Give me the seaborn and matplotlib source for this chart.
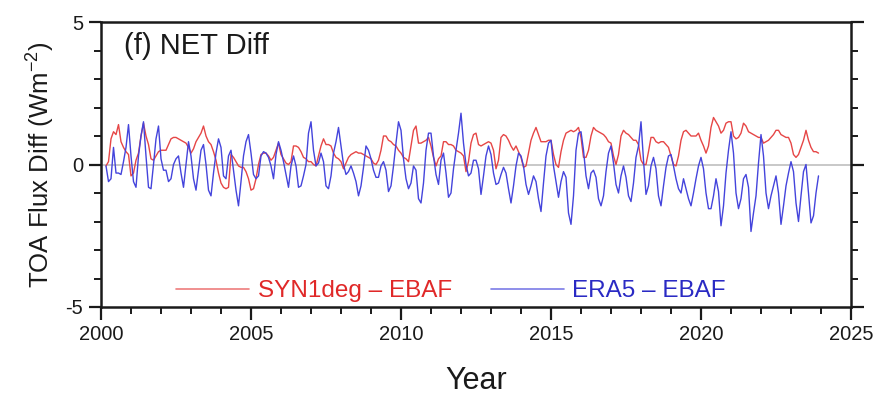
import numpy as np
import pandas as pd
import matplotlib
matplotlib.use("Agg")
import matplotlib.pyplot as plt
import seaborn as sns
from matplotlib.ticker import MultipleLocator, FixedLocator

# ---------------- data (monthly, W m-2) ----------------
start_year = 2000
start_month = 3  # March 2000

syn_2000 = [-0.05, 0.1, 0.9, 1.15, 1.05, 1.4, 0.8, 0.6, 0.45, 0.35]
syn_2001 = [-0.4, -0.3, 0.15, 0.4, 1.0, 1.45, 1.0, 0.7, 0.2, 0.15, 0.3, 0.45]
syn_2002 = [0.5, 0.5, 0.5, 0.7, 0.9, 0.95, 0.95, 0.9, 0.85, 0.8, 0.75, 0.6]
syn_2003 = [0.4, 0.55, 0.8, 0.95, 1.1, 1.35, 1.0, 0.8, 0.7, 0.45, 0.15, -0.3]
syn_2004 = [-0.65, -0.8, -0.85, -0.8, 0.35, 0.25, 0.1, -0.05, -0.1, -0.1, -0.25, -0.5]
syn_2005 = [-0.9, -0.85, -0.5, 0.0, 0.35, 0.4, 0.4, 0.3, 0.15, 0.25, 0.5, 0.75]
syn_2006 = [0.35, 0.2, 0.05, 0.0, 0.1, 0.65, 0.65, 0.6, 0.45, 0.25, 0.2, 0.1]
syn_2007 = [0.1, 0.0, -0.05, 0.3, 0.65, 0.9, 0.7, 0.7, 0.65, 0.4, 0.25, 0.2]
syn_2008 = [0.1, -0.15, 0.05, 0.25, 0.35, 0.4, 0.45, 0.4, 0.4, 0.35, 0.3, 0.25]
syn_2009 = [0.2, 0.05, 0.0, 0.15, 0.5, 1.0, 1.0, 0.85, 0.8, 0.7, 0.65, 0.5]
syn_2010 = [0.4, 0.25, 0.2, 0.1, 0.65, 1.2, 1.35, 0.75, 0.75, 0.8, 0.85, 0.95]
syn_2011 = [0.65, 0.25, -0.05, 0.2, 0.3, 0.8, 0.8, 0.7, 0.7, 0.65, 0.5, 0.45]
syn_2012 = [0.4, 0.3, -0.25, 0.1, 0.75, 1.05, 1.1, 0.7, 0.65, 0.7, 0.75, 0.8]
syn_2013 = [0.75, 0.5, -0.15, 0.15, 0.95, 1.05, 1.0, 0.85, 0.65, 0.5, 0.65, 0.45]
syn_2014 = [0.25, -0.1, -0.05, 0.4, 0.85, 1.1, 1.3, 1.05, 0.8, 0.8, 0.8, 0.85]
syn_2015 = [0.85, 0.35, 0.0, -0.1, 0.45, 0.85, 1.1, 1.15, 1.2, 1.15, 1.2, 1.3]
syn_2016 = [0.95, 0.25, 0.25, 0.5, 1.0, 1.3, 1.2, 1.15, 1.1, 1.05, 0.95, 0.8]
syn_2017 = [0.75, 0.3, 0.0, 0.35, 1.0, 1.2, 1.1, 1.05, 0.95, 0.85, 0.85, 0.7]
syn_2018 = [0.15, 0.0, 0.0, 0.45, 0.95, 0.95, 0.8, 0.75, 0.8, 0.8, 0.7, 0.6]
syn_2019 = [0.3, 0.0, -0.05, 0.3, 0.85, 1.15, 1.2, 1.1, 1.0, 1.0, 1.0, 1.1]
syn_2020 = [0.85, 0.65, 0.4, 0.65, 1.3, 1.65, 1.5, 1.35, 1.1, 1.2, 1.45, 1.5]
syn_2021 = [1.5, 1.0, 0.9, 0.95, 1.1, 1.45, 1.35, 1.15, 1.1, 1.05, 1.0, 0.95]
syn_2022 = [0.95, 0.75, 0.8, 0.85, 0.95, 1.05, 1.2, 1.2, 1.05, 1.0, 0.95, 0.95]
syn_2023 = [0.75, 0.35, 0.25, 0.35, 0.6, 0.85, 1.2, 0.85, 0.6, 0.45, 0.45, 0.4]

era_2000 = [-0.05, -0.6, -0.5, 0.6, -0.3, -0.3, -0.35, 0.1, 0.6, 1.4]
era_2001 = [0.3, -0.6, -0.8, 0.3, 1.0, 1.5, 0.3, -0.8, -0.85, 0.0, 0.9, 1.35]
era_2002 = [0.2, -0.2, -0.2, -0.6, -0.5, 0.0, 0.2, 0.3, -0.3, -0.8, 0.0, 0.8]
era_2003 = [0.3, -0.5, -0.9, -0.2, 0.5, 0.7, 0.0, -0.9, -1.1, -0.3, 0.4, 0.9]
era_2004 = [0.6, -0.4, -0.5, 0.3, 0.5, -0.2, -0.9, -1.45, -0.6, 0.3, 0.8, 1.05]
era_2005 = [0.4, -0.35, -0.5, -0.4, 0.3, 0.45, 0.4, 0.25, -0.05, -0.5, 0.35, 0.8]
era_2006 = [0.5, 0.1, -0.35, -0.8, -0.05, 0.3, -0.05, -0.8, -0.75, -0.4, 0.0, 1.1]
era_2007 = [1.5, 0.5, -0.05, 0.05, 0.4, 0.1, -0.75, -0.85, -0.4, 0.4, 0.8, 1.3]
era_2008 = [0.65, 0.0, -0.35, -0.25, -0.05, -0.3, -0.6, -1.1, -0.75, -0.1, 0.65, 0.5]
era_2009 = [0.2, -0.2, -0.45, -0.45, -0.05, 0.1, -0.2, -0.95, -0.75, -0.05, 0.75, 1.5]
era_2010 = [1.2, 0.2, -0.5, -0.85, -0.65, -0.05, -0.2, -1.2, -1.35, -0.65, 0.5, 1.1]
era_2011 = [1.1, 0.3, -0.35, -0.7, 0.15, 0.4, -0.3, -1.15, -1.0, -0.15, 0.5, 1.1]
era_2012 = [1.8, 0.75, 0.0, -0.4, -0.3, 0.15, 0.15, -0.15, -1.05, -0.4, 0.3, 0.65]
era_2013 = [0.35, -0.3, -0.7, -0.65, -0.35, -0.1, -0.3, -0.85, -1.35, -0.75, -0.05, 0.4]
era_2014 = [0.3, -0.05, -0.7, -1.05, -0.75, -0.4, -0.6, -1.2, -1.65, -0.65, 0.3, 0.75]
era_2015 = [0.85, -0.05, -0.6, -1.15, -0.6, -0.25, -0.45, -1.7, -2.1, -1.1, 0.5, 1.1]
era_2016 = [1.15, 0.5, -0.4, -0.85, -0.3, -0.2, -0.45, -1.2, -1.45, -1.1, -0.25, 0.4]
era_2017 = [0.65, 0.05, -0.7, -1.0, -0.4, -0.05, -0.45, -1.1, -1.3, -0.65, 0.25, 0.65]
era_2018 = [1.5, 0.15, -1.05, -0.75, -0.05, 0.25, -0.15, -1.1, -1.45, -0.75, -0.1, 0.3]
era_2019 = [0.35, -0.05, -0.5, -0.85, -1.0, -0.5, -0.85, -1.2, -1.45, -1.0, -0.5, -0.05]
era_2020 = [0.25, -0.15, -1.0, -1.55, -1.55, -1.1, -0.5, -0.95, -2.15, -1.45, -0.3, 0.5]
era_2021 = [1.15, 0.4, -1.0, -1.55, -1.2, -0.5, -0.35, -0.8, -2.35, -1.7, -1.1, 0.05]
era_2022 = [1.05, 0.3, -1.0, -1.55, -1.1, -0.75, -0.4, -1.0, -2.1, -1.45, -0.75, -0.3]
era_2023 = [0.1, -0.25, -1.35, -2.0, -1.1, -0.25, 0.0, -1.0, -2.05, -1.8, -1.0, -0.4]

series_names = ["SYN1deg \u2013 EBAF", "ERA5 \u2013 EBAF"]
line_colors = ["#e64646", "#4444dc"]
text_colors = ["#e02828", "#2a2ac4"]
x_ticks_major = [2000, 2005, 2010, 2015, 2020, 2025]
y_ticks_major = [-5, 0, 5]
panel_title = "(f) NET Diff"

# --------------------------------------------------------------------------
syn_vals = np.concatenate([syn_2000, syn_2001, syn_2002, syn_2003, syn_2004, syn_2005,
                           syn_2006, syn_2007, syn_2008, syn_2009, syn_2010, syn_2011,
                           syn_2012, syn_2013, syn_2014, syn_2015, syn_2016, syn_2017,
                           syn_2018, syn_2019, syn_2020, syn_2021, syn_2022, syn_2023])
era_vals = np.concatenate([era_2000, era_2001, era_2002, era_2003, era_2004, era_2005,
                           era_2006, era_2007, era_2008, era_2009, era_2010, era_2011,
                           era_2012, era_2013, era_2014, era_2015, era_2016, era_2017,
                           era_2018, era_2019, era_2020, era_2021, era_2022, era_2023])

def month_axis(n):
    idx = np.arange(n) + (start_month - 1)
    return start_year + idx / 12.0

df = pd.concat([
    pd.DataFrame({"time": month_axis(len(syn_vals)), "diff": syn_vals, "series": series_names[0]}),
    pd.DataFrame({"time": month_axis(len(era_vals)), "diff": era_vals, "series": series_names[1]}),
], ignore_index=True)

sns.set_theme(style="ticks")
plt.rcParams["font.family"] = ["Liberation Sans", "DejaVu Sans"]
plt.rcParams["mathtext.fontset"] = "custom"
plt.rcParams["mathtext.rm"] = "Liberation Sans"
plt.rcParams["mathtext.it"] = "Liberation Sans:italic"
plt.rcParams["axes.unicode_minus"] = False

fig = plt.figure(figsize=(8.84, 3.99), dpi=100)
ax = fig.add_axes([101 / 884, 1 - 307 / 399, 750 / 884, 285 / 399])

ax.axhline(0, color="#c4c4c4", lw=1.3, zorder=1)

sns.lineplot(data=df, x="time", y="diff", hue="series", hue_order=series_names,
             palette=line_colors, estimator=None, errorbar=None, lw=1.0,
             ax=ax, zorder=3)

ax.set_xlim(2000, 2025)
ax.set_ylim(-5, 5)

ax.xaxis.set_major_locator(FixedLocator(x_ticks_major))
ax.xaxis.set_minor_locator(MultipleLocator(1))
ax.yaxis.set_major_locator(FixedLocator(y_ticks_major))
ax.yaxis.set_minor_locator(MultipleLocator(1))

for s in ax.spines.values():
    s.set_visible(True)
    s.set_color("#1a1a1a")
    s.set_linewidth(1.8)

ax.tick_params(axis="both", which="major", direction="out", length=9, width=1.6,
               color="#1a1a1a", labelsize=14.5, labelcolor="#1a1a1a", pad=4)
ax.tick_params(axis="both", which="minor", direction="out", length=5, width=1.4,
               color="#1a1a1a")
ax.tick_params(axis="x", which="both", bottom=True, top=False)
ax.tick_params(axis="y", which="both", left=True, right=True, labelright=False)

ax.set_xlabel("Year", fontsize=22, color="#1a1a1a", labelpad=16)
ax.set_ylabel(r"TOA Flux Diff (Wm$^{\mathregular{-2}}$)", fontsize=18.5,
              color="#1a1a1a", labelpad=6)

ax.text(0.03, 0.915, panel_title, transform=ax.transAxes, fontsize=21,
        color="#1a1a1a", ha="left", va="center")

handles, labels = ax.get_legend_handles_labels()
leg = ax.legend(handles, labels, loc="center", bbox_to_anchor=(0.467, 0.055),
                ncol=2, frameon=False, fontsize=17.5, handlelength=3.0,
                handletextpad=0.35, columnspacing=1.6, borderaxespad=0)
for txt, c in zip(leg.get_texts(), text_colors):
    txt.set_color(c)
for ln in leg.get_lines():
    ln.set_linewidth(1.2)
    ln.set_alpha(0.7)

fig.savefig("out.png", dpi=100)
